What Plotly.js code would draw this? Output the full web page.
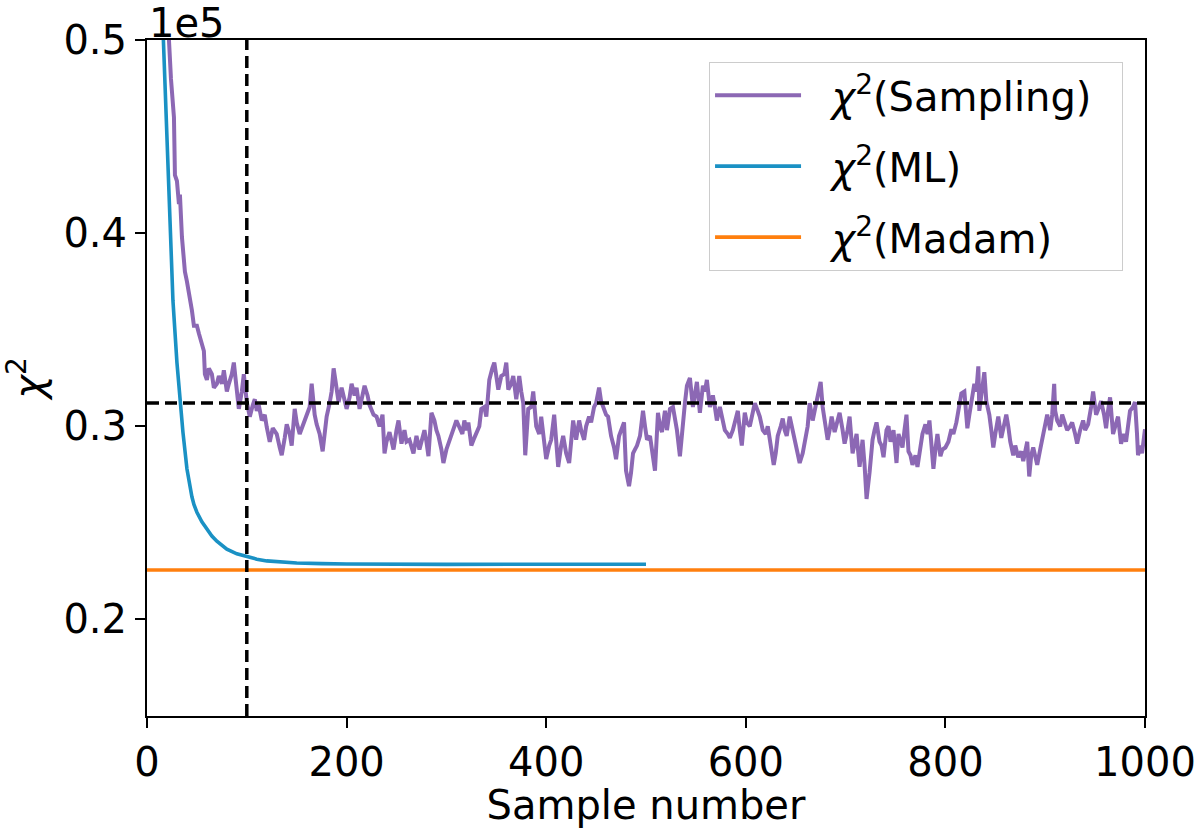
<!DOCTYPE html>
<html>
<head>
<meta charset="utf-8">
<script src="https://cdn.plot.ly/plotly-3.0.1.min.js"></script>
<style>
  body { margin: 0; background: #fff; }
  #chart { width: 1200px; height: 828px; }
</style>
</head>
<body>
<div id="chart"></div>
<script>
// chi^2 values are in units of 1e5
const samplingX = [
  20, 22, 24, 27, 28, 30, 32, 33, 35, 38, 40, 43, 45, 47, 50, 52, 55, 57, 58, 60,
  62, 65, 67, 70, 72, 75, 77, 80, 82, 85, 87, 90, 92, 95, 97, 100, 103, 106, 108, 110,
  112, 115, 118, 120, 123, 126, 130, 133, 135, 138, 140, 143, 145, 148, 150, 153, 156, 160, 163, 165,
  168, 170, 173, 176, 178, 180, 183, 185, 187, 190, 192, 195, 197, 200, 203, 205, 208, 210, 213, 216,
  218, 221, 223, 227, 230, 233, 236, 238, 240, 243, 247, 250, 252, 255, 258, 260, 263, 267, 270, 273,
  276, 278, 280, 282, 285, 288, 290, 292, 295, 297, 300, 303, 305, 308, 310, 313, 316, 318, 320, 322,
  325, 328, 330, 333, 335, 338, 340, 343, 346, 348, 350, 352, 355, 358, 360, 362, 365, 367, 370, 373,
  375, 377, 379, 382, 385, 387, 390, 393, 395, 398, 400, 403, 405, 408, 410, 412, 415, 417, 420, 423,
  425, 427, 430, 433, 435, 438, 440, 443, 445, 448, 450, 453, 455, 457, 460, 462, 465, 468, 470, 473,
  476, 478, 480, 483, 485, 487, 489, 491, 494, 497, 499, 501, 504, 507, 509, 512, 514, 516, 519, 521,
  524, 527, 529, 531, 534, 537, 539, 541, 544, 547, 549, 551, 554, 557, 559, 561, 564, 567, 569, 571,
  574, 577, 579, 582, 584, 587, 589, 592, 594, 596, 599, 601, 604, 607, 609, 612, 614, 617, 620, 622,
  625, 628, 630, 632, 635, 637, 639, 641, 644, 647, 649, 652, 654, 657, 659, 662, 664, 667, 669, 671,
  673, 675, 677, 680, 682, 684, 686, 689, 692, 694, 697, 699, 702, 704, 707, 709, 711, 714, 717, 719,
  721, 724, 727, 729, 731, 734, 736, 738, 741, 743, 745, 748, 751, 753, 755, 757, 759, 761, 763, 765,
  767, 770, 772, 775, 777, 780, 782, 784, 786, 788, 790, 792, 795, 797, 800, 803, 806, 808, 811, 813,
  816, 819, 822, 824, 826, 829, 831, 833, 834, 837, 839, 841, 844, 846, 848, 850, 853, 856, 858, 861,
  863, 865, 868, 870, 873, 876, 878, 880, 882, 884, 886, 888, 890, 892, 895, 897, 900, 902, 905, 907,
  909, 910, 912, 915, 917, 920, 922, 925, 927, 930, 932, 935, 938, 940, 943, 946, 948, 950, 951, 954,
  956, 959, 961, 963, 965, 968, 970, 973, 976, 979, 981, 983, 985, 988, 990, 992, 993, 995, 997, 1000
];
const samplingY = [
  0.510, 0.500, 0.480, 0.460, 0.430, 0.427, 0.415, 0.420, 0.398, 0.380, 0.375, 0.367, 0.360, 0.352, 0.352, 0.348, 0.342, 0.339, 0.327, 0.324,
  0.330, 0.327, 0.320, 0.322, 0.326, 0.322, 0.329, 0.318, 0.322, 0.327, 0.333, 0.320, 0.309, 0.318, 0.327, 0.3125, 0.305, 0.311, 0.314, 0.308,
  0.311, 0.303, 0.306, 0.2995, 0.292, 0.299, 0.296, 0.289, 0.285, 0.294, 0.301, 0.296, 0.290, 0.309, 0.302, 0.296, 0.300, 0.305, 0.310, 0.322,
  0.306, 0.301, 0.296, 0.287, 0.296, 0.305, 0.312, 0.318, 0.330, 0.320, 0.3125, 0.320, 0.316, 0.309, 0.315, 0.322, 0.316, 0.320, 0.309, 0.315,
  0.321, 0.316, 0.311, 0.306, 0.305, 0.300, 0.306, 0.286, 0.292, 0.297, 0.288, 0.298, 0.303, 0.291, 0.298, 0.292, 0.293, 0.286, 0.295, 0.288,
  0.295, 0.298, 0.292, 0.2845, 0.307, 0.303, 0.298, 0.295, 0.288, 0.281, 0.288, 0.292, 0.295, 0.300, 0.303, 0.300, 0.296, 0.303, 0.298, 0.302,
  0.290, 0.294, 0.297, 0.300, 0.309, 0.310, 0.305, 0.324, 0.330, 0.333, 0.326, 0.319, 0.326, 0.327, 0.333, 0.319, 0.322, 0.326, 0.314, 0.326,
  0.318, 0.312, 0.285, 0.309, 0.310, 0.318, 0.300, 0.296, 0.305, 0.292, 0.283, 0.290, 0.293, 0.306, 0.292, 0.279, 0.290, 0.295, 0.286, 0.281,
  0.292, 0.303, 0.293, 0.303, 0.298, 0.293, 0.300, 0.305, 0.302, 0.310, 0.312, 0.320, 0.313, 0.310, 0.306, 0.305, 0.295, 0.289, 0.283, 0.295,
  0.299, 0.302, 0.277, 0.269, 0.276, 0.286, 0.288, 0.290, 0.295, 0.308, 0.300, 0.293, 0.295, 0.286, 0.277, 0.307, 0.300, 0.297, 0.308, 0.298,
  0.309, 0.310, 0.305, 0.298, 0.2845, 0.305, 0.312, 0.321, 0.325, 0.310, 0.318, 0.323, 0.307, 0.321, 0.318, 0.324, 0.310, 0.316, 0.310, 0.303,
  0.310, 0.302, 0.298, 0.296, 0.294, 0.298, 0.302, 0.308, 0.298, 0.290, 0.307, 0.302, 0.300, 0.306, 0.312, 0.308, 0.305, 0.298, 0.296, 0.300,
  0.290, 0.280, 0.286, 0.295, 0.300, 0.304, 0.298, 0.295, 0.305, 0.298, 0.293, 0.287, 0.281, 0.286, 0.291, 0.300, 0.312, 0.303, 0.308, 0.314,
  0.318, 0.323, 0.310, 0.300, 0.293, 0.298, 0.305, 0.297, 0.302, 0.307, 0.298, 0.291, 0.298, 0.305, 0.286, 0.292, 0.296, 0.279, 0.293, 0.280,
  0.2624, 0.276, 0.293, 0.298, 0.302, 0.292, 0.290, 0.284, 0.298, 0.300, 0.292, 0.298, 0.281, 0.296, 0.292, 0.289, 0.298, 0.306, 0.287, 0.285,
  0.280, 0.285, 0.279, 0.290, 0.296, 0.301, 0.296, 0.303, 0.292, 0.278, 0.288, 0.296, 0.2845, 0.288, 0.289, 0.292, 0.2985, 0.296, 0.302, 0.308,
  0.317, 0.318, 0.299, 0.306, 0.313, 0.322, 0.318, 0.331, 0.308, 0.318, 0.328, 0.313, 0.306, 0.298, 0.289, 0.296, 0.305, 0.294, 0.300, 0.306,
  0.300, 0.292, 0.285, 0.290, 0.284, 0.287, 0.282, 0.288, 0.292, 0.274, 0.285, 0.289, 0.284, 0.280, 0.288, 0.294, 0.300, 0.306, 0.298, 0.306,
  0.322, 0.308, 0.303, 0.300, 0.306, 0.302, 0.298, 0.300, 0.302, 0.296, 0.291, 0.298, 0.303, 0.298, 0.301, 0.310, 0.318, 0.310, 0.306, 0.310,
  0.313, 0.306, 0.299, 0.308, 0.315, 0.296, 0.300, 0.305, 0.291, 0.296, 0.292, 0.300, 0.308, 0.310, 0.3125, 0.296, 0.285, 0.290, 0.286, 0.2985
];

const mlX = [15, 17, 20, 23, 26, 30, 33, 36, 40, 42, 45, 47, 50, 55, 60, 65, 70, 75, 80, 90, 100, 110, 120, 135, 150, 175, 200, 300, 400, 500];
const mlY = [0.52, 0.49, 0.445, 0.40, 0.365, 0.333, 0.312, 0.297, 0.278, 0.271, 0.2635, 0.2595, 0.2555, 0.2505, 0.2468, 0.2432, 0.2405, 0.2382, 0.2364,
             0.2340, 0.2324, 0.2312, 0.2303, 0.2296, 0.2292, 0.2289, 0.2287, 0.2285, 0.2285, 0.2286];

const madamX = [0, 1000];
const madamY = [0.2256, 0.2256];

const burnIn = 100;          // vertical dashed line
const samplingMean = 0.3121; // horizontal dashed line

const PURPLE = "#8c68b4";
const BLUE = "#1a91c4";
const ORANGE = "#ff7f0e";
const FONT = "DejaVu Sans, sans-serif";
const GAP = "\u00a0\u00a0";

const data = [
  {
    x: samplingX, y: samplingY, mode: "lines", name: GAP + "<i>χ</i><sup>2</sup>(Sampling)" + GAP,
    legendgroup: "a", line: { color: PURPLE, width: 4 },
  },
  {
    x: mlX, y: mlY, mode: "lines", name: GAP + "<i>χ</i><sup>2</sup>(ML)",
    legendgroup: "b", line: { color: BLUE, width: 3.6 },
  },
  {
    x: madamX, y: madamY, mode: "lines", name: GAP + "<i>χ</i><sup>2</sup>(Madam)",
    legendgroup: "c", line: { color: ORANGE, width: 3.6 },
  },
];

const axisStyle = {
  showgrid: false,
  zeroline: false,
  showline: true,
  mirror: true,
  linecolor: "black",
  linewidth: 2,
  ticks: "outside",
  ticklen: 10,
  tickwidth: 2,
  tickcolor: "black",
  tickfont: { family: FONT, size: 40, color: "black" },
};

const layout = {
  width: 1200,
  height: 828,
  margin: { l: 147, r: 55, t: 40, b: 112 },
  paper_bgcolor: "white",
  plot_bgcolor: "white",
  showlegend: true,
  xaxis: Object.assign({}, axisStyle, {
    range: [0, 1000],
    tickvals: [0, 200, 400, 600, 800, 1000],
    title: { text: "Sample number", font: { family: FONT, size: 40, color: "black" }, standoff: 0 },
  }),
  yaxis: Object.assign({}, axisStyle, {
    range: [0.15, 0.5],
    tickvals: [0.2, 0.3, 0.4, 0.5],
    ticktext: ["0.2", "0.3", "0.4", "0.5"],
    title: { text: "<i>χ</i><sup>2</sup>", font: { family: FONT, size: 40, color: "black" }, standoff: 12 },
  }),
  legend: {
    x: 0.978, y: 0.968, xanchor: "right", yanchor: "top",
    bgcolor: "white", bordercolor: "#cccccc", borderwidth: 1,
    font: { family: FONT, size: 40, color: "black" },
    itemwidth: 86,
    traceorder: "grouped",
    tracegroupgap: 16,
  },
  shapes: [
    { type: "line", xref: "x", yref: "paper", x0: burnIn, x1: burnIn, y0: 0, y1: 1,
      line: { color: "black", width: 3.5, dash: "12px,6px" }, layer: "above" },
    { type: "line", xref: "paper", yref: "y", x0: 0, x1: 1, y0: samplingMean, y1: samplingMean,
      line: { color: "black", width: 3.5, dash: "12px,6px" }, layer: "above" },
  ],
  annotations: [
    { text: "1e5", xref: "paper", yref: "paper", x: 0, y: 1, xanchor: "left", yanchor: "bottom",
      showarrow: false, font: { family: FONT, size: 40, color: "black" }, yshift: -8 },
  ],
};

Plotly.newPlot("chart", data, layout, { staticPlot: true });
</script>
</body>
</html>
